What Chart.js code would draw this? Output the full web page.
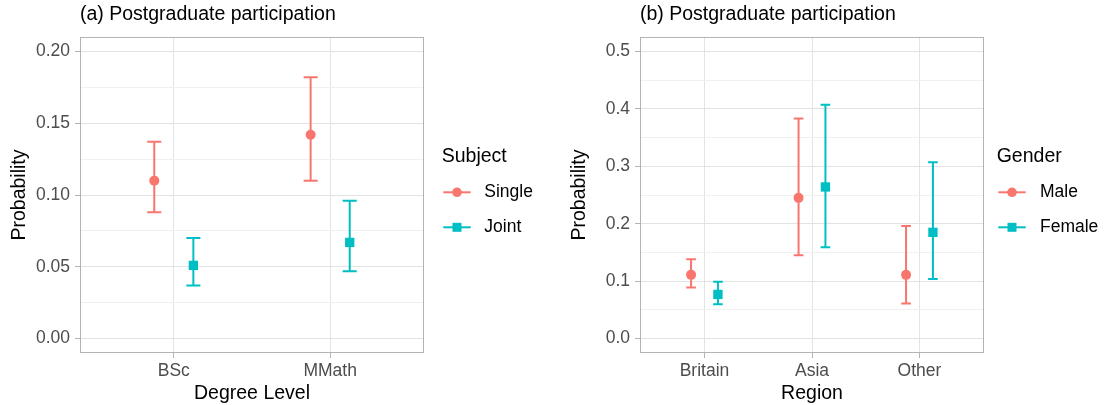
<!DOCTYPE html>
<html><head><meta charset="utf-8">
<script src="https://cdn.jsdelivr.net/npm/chart.js@4"></script>
<style>
html,body{margin:0;padding:0;background:#fff;width:1106px;height:405px;overflow:hidden}
#ca{position:absolute;left:0;top:0}
#cb{position:absolute;left:560px;top:0}
</style></head><body>
<canvas id="ca" width="560" height="405"></canvas>
<canvas id="cb" width="546" height="405"></canvas>
<script>
// ---------- Panel (a) data ----------
const degreeLevels = ['BSc', 'MMath'];
const subjectGroups = ['Single', 'Joint'];
const singleEst  = [0.110, 0.142];
const singleLow  = [0.088, 0.110];
const singleHigh = [0.137, 0.182];
const jointEst   = [0.051, 0.067];
const jointLow   = [0.037, 0.047];
const jointHigh  = [0.070, 0.096];
const yTicksA      = [0, 0.05, 0.10, 0.15, 0.20];
const yTickLabelsA = ['0.00', '0.05', '0.10', '0.15', '0.20'];
const yMinorA      = [0.025, 0.075, 0.125, 0.175];

// ---------- Panel (b) data ----------
const regions = ['Britain', 'Asia', 'Other'];
const genderGroups = ['Male', 'Female'];
const maleEst    = [0.111, 0.245, 0.111];
const maleLow    = [0.089, 0.145, 0.061];
const maleHigh   = [0.138, 0.383, 0.196];
const femaleEst  = [0.077, 0.264, 0.185];
const femaleLow  = [0.060, 0.159, 0.104];
const femaleHigh = [0.099, 0.407, 0.307];
const yTicksB      = [0, 0.1, 0.2, 0.3, 0.4, 0.5];
const yTickLabelsB = ['0.0', '0.1', '0.2', '0.3', '0.4', '0.5'];
const yMinorB      = [0.05, 0.15, 0.25, 0.35, 0.45];

// ---------- style ----------
const RED = '#F8766D', CYAN = '#00BFC4';
const DODGE = 0.125, CAP = 0.045;
Chart.defaults.font.family = "'Liberation Sans', Arial, sans-serif";

const panelPlugin = {
  id: 'panel',
  beforeDatasetsDraw(chart) {
    const {ctx, scales} = chart;
    chart.data.datasets.forEach(ds => {
      ctx.save();
      ctx.strokeStyle = ds.borderColor;
      ctx.lineWidth = 2;
      ds.data.forEach((p, i) => {
        const x = scales.x.getPixelForValue(p.x);
        const x0 = scales.x.getPixelForValue(p.x - CAP);
        const x1 = scales.x.getPixelForValue(p.x + CAP);
        const yl = scales.y.getPixelForValue(ds.low[i]);
        const yh = scales.y.getPixelForValue(ds.high[i]);
        ctx.beginPath();
        ctx.moveTo(x, yl); ctx.lineTo(x, yh);
        ctx.moveTo(x0, yl); ctx.lineTo(x1, yl);
        ctx.moveTo(x0, yh); ctx.lineTo(x1, yh);
        ctx.stroke();
      });
      ctx.restore();
    });
  },
  afterDraw(chart, args, opts) {
    const {ctx, chartArea: a} = chart;
    ctx.save();
    ctx.strokeStyle = '#B3B3B3';
    ctx.lineWidth = 1;
    ctx.strokeRect(Math.round(a.left) + 0.5, Math.round(a.top) + 0.5,
                   Math.round(a.width) - 1, Math.round(a.height) - 1);
    // legend
    const L = opts.legend;
    ctx.fillStyle = '#000';
    ctx.textBaseline = 'middle';
    ctx.textAlign = 'left';
    ctx.font = "19.5px 'Liberation Sans', Arial, sans-serif";
    ctx.fillText(L.title, L.x, L.titleY);
    chart.data.datasets.forEach((ds, k) => {
      const y = L.itemY[k];
      ctx.strokeStyle = ds.borderColor;
      ctx.lineWidth = 2;
      ctx.beginPath();
      ctx.moveTo(L.keyX0, y); ctx.lineTo(L.keyX1, y);
      ctx.stroke();
      const cx = (L.keyX0 + L.keyX1) / 2;
      ctx.fillStyle = ds.backgroundColor;
      ctx.beginPath();
      if (ds.pointStyle === 'rect') ctx.rect(cx - 4.5, y - 4.5, 9, 9);
      else ctx.arc(cx, y, 4.8, 0, Math.PI * 2);
      ctx.fill();
      ctx.fillStyle = '#000';
      ctx.font = "17.5px 'Liberation Sans', Arial, sans-serif";
      ctx.fillText(ds.label, L.labelX, y);
    });
    ctx.restore();
  }
};

function makeDataset(label, color, style, cats, est, low, high, side) {
  return {
    label: label,
    data: cats.map((c, i) => ({x: i + 1 + side * DODGE, y: est[i]})),
    low: low, high: high,
    borderColor: color, backgroundColor: color,
    pointStyle: style,
    pointRadius: style === 'rect' ? 6.6 : 5,
    pointHoverRadius: style === 'rect' ? 6.6 : 5,
    pointBorderWidth: 0,
    showLine: false
  };
}

function makeChart(canvas, cfg) {
  const yAll = cfg.yTicks.map((v, i) => ({value: v, minor: false, lab: cfg.yLabels[i]}))
    .concat(cfg.yMinor.map(v => ({value: v, minor: true, lab: ''})))
    .sort((p, q) => p.value - q.value);
  return new Chart(canvas, {
    type: 'scatter',
    data: {datasets: cfg.datasets},
    options: {
      responsive: false,
      animation: false,
      events: [],
      layout: {padding: {left: 0, right: cfg.rightPad, top: 0, bottom: 0}},
      plugins: {
        legend: {display: false},
        tooltip: {enabled: false},
        title: {
          display: true, text: cfg.title, align: 'start', fullSize: false,
          color: '#000', font: {size: 19.5, weight: 'normal'},
          padding: {top: 3.3, bottom: 10.3}
        },
        panel: {legend: cfg.legend}
      },
      scales: {
        x: {
          type: 'linear', min: 0.4, max: cfg.cats.length + 0.6,
          afterBuildTicks: s => { s.ticks = cfg.cats.map((c, i) => ({value: i + 1})); },
          afterFit: s => { s.height = 52; },
          ticks: {
            autoSkip: false, maxRotation: 0, padding: 2.5,
            color: '#4D4D4D', font: {size: 17.5},
            callback: (v, i) => cfg.cats[i]
          },
          grid: {color: '#E3E3E3', lineWidth: 1, tickLength: 5, tickColor: '#B3B3B3'},
          border: {display: false},
          title: {display: true, text: cfg.xTitle, color: '#000', font: {size: 19.5}, padding: {top: 0, bottom: 0}}
        },
        y: {
          type: 'linear', min: cfg.yMin, max: cfg.yMax,
          afterBuildTicks: s => { s.ticks = yAll.map(t => Object.assign({}, t)); },
          afterFit: s => { s.width = 80; },
          ticks: {
            autoSkip: false, padding: 5,
            color: '#4D4D4D', font: {size: 17.5},
            callback: (v, i, ticks) => ticks[i].lab
          },
          grid: {
            color: c => (c.tick && c.tick.minor) ? '#F0F0F0' : '#E3E3E3',
            lineWidth: 1, tickLength: 5,
            tickColor: c => (c.tick && c.tick.minor) ? 'rgba(0,0,0,0)' : '#B3B3B3'
          },
          border: {display: false},
          title: {display: true, text: 'Probability', color: '#000', font: {size: 19.5}, padding: {top: 8.3, bottom: 0}}
        }
      }
    },
    plugins: [panelPlugin]
  });
}

makeChart(document.getElementById('ca'), {
  title: '(a) Postgraduate participation',
  xTitle: 'Degree Level',
  cats: degreeLevels,
  yMin: -0.01, yMax: 0.21,
  yTicks: yTicksA, yLabels: yTickLabelsA, yMinor: yMinorA,
  rightPad: 136,
  datasets: [
    makeDataset(subjectGroups[0], RED, 'circle', degreeLevels, singleEst, singleLow, singleHigh, -1),
    makeDataset(subjectGroups[1], CYAN, 'rect', degreeLevels, jointEst, jointLow, jointHigh, 1)
  ],
  legend: {title: 'Subject', x: 441.7, titleY: 157, keyX0: 443.3, keyX1: 470.7, labelX: 484.3, itemY: [192.3, 227.3]}
});

makeChart(document.getElementById('cb'), {
  title: '(b) Postgraduate participation',
  xTitle: 'Region',
  cats: regions,
  yMin: -0.025, yMax: 0.525,
  yTicks: yTicksB, yLabels: yTickLabelsB, yMinor: yMinorB,
  rightPad: 122,
  datasets: [
    makeDataset(genderGroups[0], RED, 'circle', regions, maleEst, maleLow, maleHigh, -1),
    makeDataset(genderGroups[1], CYAN, 'rect', regions, femaleEst, femaleLow, femaleHigh, 1)
  ],
  legend: {title: 'Gender', x: 436.7, titleY: 157, keyX0: 438.3, keyX1: 465.7, labelX: 480, itemY: [192.3, 227.3]}
});
</script>
</body></html>
